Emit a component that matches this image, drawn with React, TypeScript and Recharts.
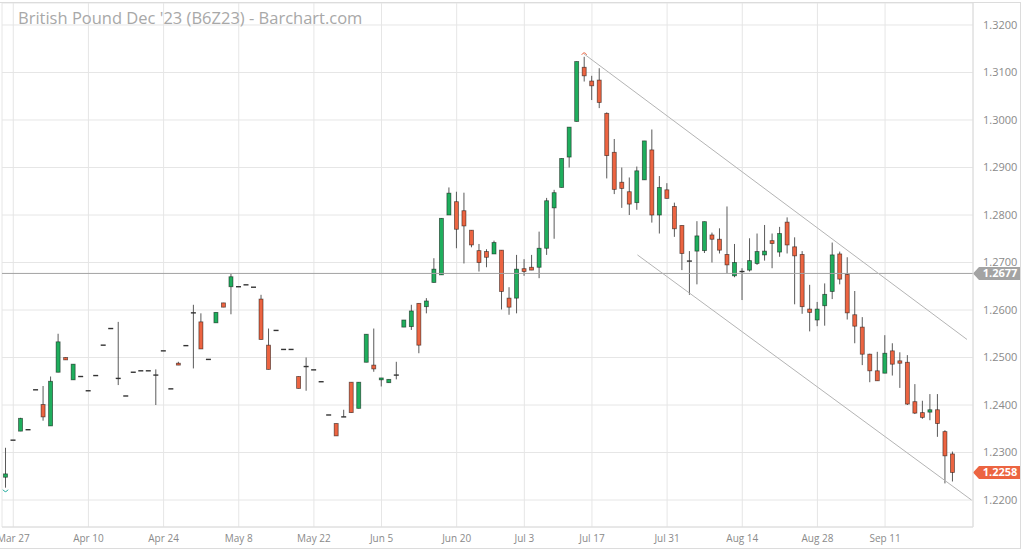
import React from "react"
import {
  ComposedChart,
  Bar,
  XAxis,
  YAxis,
  CartesianGrid,
  ReferenceLine
} from "recharts"

// ── Data ──────────────────────────────────────────────────────────────────────

const DATES = [
  "Mar 24", "Mar 27", "Mar 28", "Mar 29", "Mar 30", "Mar 31", "Apr 3", "Apr 4", "Apr 5", "Apr 6",
  "Apr 7", "Apr 10", "Apr 11", "Apr 12", "Apr 13", "Apr 14", "Apr 17", "Apr 18", "Apr 19", "Apr 20",
  "Apr 21", "Apr 24", "Apr 25", "Apr 26", "Apr 27", "Apr 28", "May 1", "May 2", "May 3", "May 4",
  "May 5", "May 8", "May 9", "May 10", "May 11", "May 12", "May 15", "May 16", "May 17", "May 18",
  "May 19", "May 22", "May 23", "May 24", "May 25", "May 26", "May 30", "May 31", "Jun 1", "Jun 2",
  "Jun 5", "Jun 6", "Jun 7", "Jun 8", "Jun 9", "Jun 12", "Jun 13", "Jun 14", "Jun 15", "Jun 16",
  "Jun 20", "Jun 21", "Jun 22", "Jun 23", "Jun 26", "Jun 27", "Jun 28", "Jun 29", "Jun 30", "Jul 3",
  "Jul 5", "Jul 6", "Jul 7", "Jul 10", "Jul 11", "Jul 12", "Jul 13", "Jul 14", "Jul 17", "Jul 18",
  "Jul 19", "Jul 20", "Jul 21", "Jul 24", "Jul 25", "Jul 26", "Jul 27", "Jul 28", "Jul 31", "Aug 1",
  "Aug 2", "Aug 3", "Aug 4", "Aug 7", "Aug 8", "Aug 9", "Aug 10", "Aug 11", "Aug 14", "Aug 15",
  "Aug 16", "Aug 17", "Aug 18", "Aug 21", "Aug 22", "Aug 23", "Aug 24", "Aug 25", "Aug 28", "Aug 29",
  "Aug 30", "Aug 31", "Sep 1", "Sep 5", "Sep 6", "Sep 7", "Sep 8", "Sep 11", "Sep 12", "Sep 13",
  "Sep 14", "Sep 15", "Sep 18", "Sep 19", "Sep 20", "Sep 21", "Sep 22"
]

const OPEN = [
  1.2248, 1.2326, 1.2345, 1.2348, 1.2432, 1.2401, 1.2356, 1.2469, 1.25, 1.2453,
  1.246, 1.243, 1.2462, 1.2526, 1.2561, 1.2456, 1.2419, 1.2469, 1.2472, 1.2472,
  1.2463, 1.2514, 1.2434, 1.2488, 1.2525, 1.2594, 1.2575, 1.2496, 1.2573, 1.2615,
  1.2649, 1.2649, 1.2653, 1.2648, 1.2623, 1.2526, 1.2557, 1.2517, 1.2517, 1.246,
  1.2481, 1.2474, 1.2449, 1.2379, 1.2361, 1.2375, 1.2448, 1.2393, 1.249, 1.2484,
  1.2453, 1.2447, 1.2463, 1.2564, 1.2565, 1.2614, 1.2607, 1.2658, 1.2674, 1.28,
  1.2828, 1.2809, 1.2768, 1.2725, 1.2723, 1.2718, 1.2726, 1.2625, 1.2625, 1.2687,
  1.269, 1.269, 1.273, 1.2815, 1.2858, 1.2922, 1.2997, 1.3111, 1.3082, 1.3084,
  1.3014, 1.2932, 1.2869, 1.2849, 1.2826, 1.2874, 1.2937, 1.28, 1.2853, 1.2818,
  1.2778, 1.2703, 1.2724, 1.2725, 1.2758, 1.2749, 1.2717, 1.2672, 1.2681, 1.2684,
  1.2698, 1.2716, 1.2746, 1.2722, 1.2785, 1.2733, 1.2717, 1.2602, 1.2579, 1.2609,
  1.2639, 1.2718, 1.2675, 1.259, 1.2564, 1.2507, 1.2472, 1.2467, 1.2514, 1.2493,
  1.249, 1.2407, 1.2384, 1.2385, 1.239, 1.2344, 1.2297
]

const HIGH = [
  1.231, 1.2326, 1.2373, 1.2348, 1.2432, 1.244, 1.246, 1.255, 1.25, 1.2486,
  1.246, 1.243, 1.2462, 1.2526, 1.2561, 1.2575, 1.2419, 1.2469, 1.2472, 1.2472,
  1.2475, 1.2514, 1.2434, 1.2491, 1.2525, 1.2611, 1.2593, 1.2496, 1.2595, 1.2615,
  1.2676, 1.2649, 1.2653, 1.2648, 1.2632, 1.2561, 1.2557, 1.2517, 1.2517, 1.246,
  1.25, 1.2474, 1.2449, 1.2379, 1.2361, 1.239, 1.2448, 1.2448, 1.2549, 1.2561,
  1.2457, 1.2454, 1.2491, 1.2579, 1.2611, 1.2614, 1.2625, 1.2709, 1.2793, 1.2858,
  1.2849, 1.2847, 1.2768, 1.2739, 1.2728, 1.2746, 1.2726, 1.2648, 1.2716, 1.2707,
  1.2716, 1.2765, 1.2836, 1.2853, 1.2919, 1.2985, 1.3123, 1.3133, 1.3093, 1.3109,
  1.3016, 1.296, 1.29, 1.2879, 1.2902, 1.2956, 1.298, 1.2882, 1.2867, 1.2826,
  1.2778, 1.2724, 1.2787, 1.2786, 1.2763, 1.2772, 1.2818, 1.2739, 1.2688, 1.2751,
  1.2761, 1.2779, 1.2761, 1.2775, 1.2795, 1.2753, 1.2724, 1.2653, 1.2617, 1.2656,
  1.2742, 1.2723, 1.2711, 1.264, 1.2585, 1.2508, 1.2512, 1.2547, 1.253, 1.2511,
  1.2505, 1.2444, 1.2409, 1.2423, 1.2423, 1.2347, 1.2302
]

const LOW = [
  1.2226, 1.2326, 1.2345, 1.2348, 1.2432, 1.2367, 1.2356, 1.2469, 1.2495, 1.2453,
  1.246, 1.243, 1.2462, 1.2526, 1.2561, 1.2442, 1.2419, 1.2469, 1.2472, 1.2472,
  1.24, 1.2514, 1.2434, 1.2484, 1.2525, 1.2477, 1.2518, 1.2496, 1.2573, 1.2606,
  1.2591, 1.2649, 1.2653, 1.2648, 1.2538, 1.2475, 1.2557, 1.2517, 1.2517, 1.2435,
  1.243, 1.2474, 1.2449, 1.2379, 1.2335, 1.2375, 1.2384, 1.2393, 1.249, 1.247,
  1.2439, 1.2447, 1.2454, 1.2564, 1.2558, 1.2509, 1.2593, 1.2658, 1.2674, 1.28,
  1.273, 1.2698, 1.2732, 1.2681, 1.269, 1.2718, 1.2601, 1.259, 1.2593, 1.2672,
  1.2684, 1.2667, 1.2716, 1.275, 1.2858, 1.29, 1.2997, 1.3081, 1.3042, 1.3025,
  1.2877, 1.2844, 1.2815, 1.28, 1.2811, 1.2874, 1.2784, 1.2761, 1.2835, 1.2754,
  1.2684, 1.2632, 1.2654, 1.272, 1.27, 1.2719, 1.2677, 1.2669, 1.2621, 1.2681,
  1.2695, 1.2704, 1.2688, 1.2712, 1.2719, 1.2612, 1.2592, 1.2555, 1.2566, 1.2567,
  1.2623, 1.2654, 1.258, 1.253, 1.2484, 1.2448, 1.2451, 1.2467, 1.2462, 1.2436,
  1.24, 1.2381, 1.2371, 1.2368, 1.2333, 1.2235, 1.2239
]

const CLOSE = [
  1.2255, 1.2326, 1.2372, 1.2348, 1.2432, 1.2375, 1.245, 1.2533, 1.2495, 1.2486,
  1.246, 1.243, 1.2462, 1.2526, 1.2561, 1.2456, 1.2419, 1.2469, 1.2472, 1.2472,
  1.2463, 1.2514, 1.2434, 1.2484, 1.2525, 1.2594, 1.2518, 1.2496, 1.2595, 1.2606,
  1.267, 1.2649, 1.2653, 1.2648, 1.2538, 1.2475, 1.2557, 1.2517, 1.2517, 1.2435,
  1.2481, 1.2474, 1.2449, 1.2379, 1.2335, 1.2375, 1.2384, 1.2448, 1.2549, 1.2476,
  1.2457, 1.2454, 1.2463, 1.2579, 1.2598, 1.2526, 1.2619, 1.2686, 1.2793, 1.2846,
  1.277, 1.2777, 1.2737, 1.27, 1.2711, 1.2742, 1.2639, 1.2606, 1.2686, 1.2681,
  1.2684, 1.273, 1.283, 1.2847, 1.2919, 1.2985, 1.3123, 1.3093, 1.3072, 1.3037,
  1.2925, 1.2854, 1.2856, 1.2823, 1.2893, 1.2956, 1.28, 1.2858, 1.2835, 1.2771,
  1.2719, 1.2703, 1.2756, 1.2786, 1.2749, 1.2726, 1.2695, 1.27, 1.2681, 1.2704,
  1.2723, 1.2724, 1.274, 1.2761, 1.2737, 1.2714, 1.2607, 1.2595, 1.2602, 1.2633,
  1.2716, 1.2665, 1.2594, 1.2566, 1.2507, 1.2472, 1.2451, 1.2509, 1.2486, 1.2488,
  1.2402, 1.2383, 1.2374, 1.239, 1.2361, 1.2293, 1.2258
]

const TICK_DATES = [
  "Mar 27", "Apr 10", "Apr 24", "May 8", "May 22", "Jun 5", "Jun 20",
  "Jul 3", "Jul 17", "Jul 31", "Aug 14", "Aug 28", "Sep 11"
]

const PRICE_TICKS = [1.22, 1.23, 1.24, 1.25, 1.26, 1.27, 1.28, 1.29, 1.3, 1.31, 1.32]

const MARKER_PRICE = 1.2677
const LAST_PRICE = CLOSE[CLOSE.length - 1]

// trend channel, drawn in (bar index, price) units
const UPPER_CHANNEL = [
  { x: 76.95, y: 1.3139 },
  { x: 127.9, y: 1.2538 }
]
const LOWER_CHANNEL = [
  { x: 84.05, y: 1.2716 },
  { x: 128.5, y: 1.22 }
]

// ── Styling ──────────────────────────────────────────────────────────────────

const COLORS = {
  up: "#1fae5d",
  down: "#ec6441",
  flat: "#333333",
  wick: "#5a5a5a",
  outline: "rgba(0, 0, 0, 0.55)",
  grid: "#e6e6e6",
  axis: "#dcdcdc",
  tick: "#8a8a8a",
  channel: "#b4b4b4",
  marker: "#a3a3a3",
  lowMark: "#1aa89a",
  title: "#a8a8a8"
}

const FONT = '"Open Sans", "Noto Sans", sans-serif'

const rows = DATES.map((date, i) => ({
  i,
  date,
  open: OPEN[i],
  high: HIGH[i],
  low: LOW[i],
  close: CLOSE[i]
}))

const maxHigh = Math.max(...HIGH)
const minLow = Math.min(...LOW)
const xTicks = TICK_DATES.map(d => DATES.indexOf(d))

// ── Candle shape ─────────────────────────────────────────────────────────────

const Candle = (props: any) => {
  const { x, y, width, height, payload } = props
  if (x == null || y == null || !payload) return null
  const { open, high, low, close } = payload
  const top = Math.min(y, y + height)
  const span = Math.abs(height)
  const k = high > low ? span / (high - low) : 0
  const py = (v: number) => top + (high - v) * k
  const cx = x + width / 2
  const bTop = py(Math.max(open, close))
  const bBot = py(Math.min(open, close))
  const fill = close > open ? COLORS.up : close < open ? COLORS.down : COLORS.flat
  const flat = bBot - bTop < 1.2

  return (
    <g>
      {span > 0 && (
        <line x1={cx} x2={cx} y1={top} y2={top + span} stroke={COLORS.wick} strokeWidth={1} />
      )}
      {flat ? (
        <line
          x1={x}
          x2={x + width}
          y1={(bTop + bBot) / 2}
          y2={(bTop + bBot) / 2}
          stroke={close === open ? COLORS.flat : fill}
          strokeWidth={1.4}
        />
      ) : (
        <rect
          x={x + 0.5}
          y={bTop}
          width={width - 1}
          height={bBot - bTop}
          fill={fill}
          stroke={COLORS.outline}
          strokeWidth={0.8}
        />
      )}
      {high === maxHigh && (
        <path
          d={`M ${cx - 2.5} ${top - 2} Q ${cx} ${top - 6} ${cx + 2.5} ${top - 2}`}
          fill="none"
          stroke={COLORS.down}
          strokeWidth={1}
        />
      )}
      {low === minLow && (
        <path
          d={`M ${cx - 2.5} ${top + span + 2} Q ${cx} ${top + span + 6} ${cx + 2.5} ${top + span + 2}`}
          fill="none"
          stroke={COLORS.lowMark}
          strokeWidth={1}
        />
      )}
    </g>
  )
}

// ── Price badge on the right axis ────────────────────────────────────────────

const PriceBadge = (props: any) => {
  const { viewBox, value, color } = props
  if (!viewBox) return null
  const xr = viewBox.x + viewBox.width
  const yy = viewBox.y
  const h = 6.5
  return (
    <g>
      <polygon
        points={`${xr},${yy} ${xr + 6},${yy - h} ${xr + 48},${yy - h} ${xr + 48},${yy + h} ${xr + 6},${yy + h}`}
        fill={color}
      />
      <text
        x={xr + 27}
        y={yy}
        dy="0.36em"
        textAnchor="middle"
        fill="#fff"
        fontSize={11}
        fontWeight={700}
        fontFamily={FONT}
      >
        {value.toFixed(4)}
      </text>
    </g>
  )
}

export default function App() {
  return (
    <div
      style={{
        position: "absolute",
        left: 0,
        top: 0,
        width: 1024,
        height: 551,
        background: "#fff",
        overflow: "hidden",
        fontFamily: FONT
      }}
    >
      <ComposedChart
        width={1024}
        height={551}
        data={rows}
        margin={{ top: 3, right: 0, bottom: 0, left: 2 }}
      >
        <CartesianGrid stroke={COLORS.grid} />
        <XAxis
          dataKey="i"
          type="number"
          domain={[-0.5, 128.7]}
          allowDataOverflow
          ticks={xTicks}
          interval={0}
          tickFormatter={(i: number) => DATES[i]}
          height={24}
          tickLine={false}
          axisLine={{ stroke: COLORS.axis }}
          tick={{ fill: COLORS.tick, fontSize: 10, fontFamily: FONT }}
        />
        <YAxis
          orientation="right"
          domain={[1.21432, 1.32463]}
          allowDataOverflow
          ticks={PRICE_TICKS}
          interval={0}
          tickFormatter={(v: number) => v.toFixed(4)}
          width={51}
          tickLine={false}
          tickMargin={4}
          axisLine={{ stroke: COLORS.axis }}
          tick={{ fill: COLORS.tick, fontSize: 11, fontFamily: FONT }}
        />
        <ReferenceLine
          y={MARKER_PRICE}
          stroke={COLORS.marker}
          strokeWidth={1}
          label={<PriceBadge value={MARKER_PRICE} color={COLORS.marker} />}
        />
        <ReferenceLine segment={UPPER_CHANNEL} stroke={COLORS.channel} strokeWidth={1} />
        <ReferenceLine segment={LOWER_CHANNEL} stroke={COLORS.channel} strokeWidth={1} />
        <Bar
          dataKey={(d: any) => [d.low, d.high]}
          shape={<Candle />}
          barSize={5}
          isAnimationActive={false}
        />
        <ReferenceLine
          y={LAST_PRICE}
          stroke="none"
          label={<PriceBadge value={LAST_PRICE} color={COLORS.down} />}
        />
      </ComposedChart>
      <div
        style={{
          position: "absolute",
          left: 18,
          top: 6,
          fontSize: 16.5,
          color: COLORS.title,
          whiteSpace: "nowrap"
        }}
      >
        British Pound Dec '23 (B6Z23) - Barchart.com
      </div>
      <div
        style={{
          position: "absolute",
          left: 0,
          top: 2,
          width: 1020,
          height: 545,
          borderTop: `1px solid ${COLORS.axis}`,
          borderRight: `1px solid ${COLORS.axis}`,
          borderBottom: `1px solid ${COLORS.axis}`,
          pointerEvents: "none"
        }}
      />
    </div>
  )
}
